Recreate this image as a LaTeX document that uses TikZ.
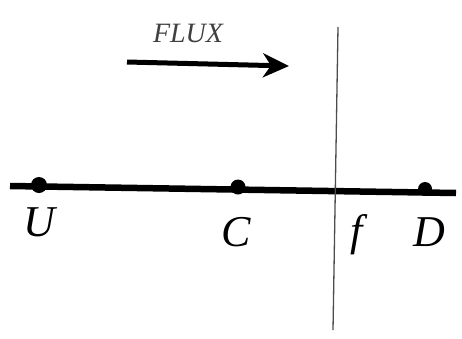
\documentclass[tikz,border=0pt]{standalone}
\usepackage{fontspec}
\setmainfont{Liberation Serif}
\usetikzlibrary{arrows.meta}
\begin{document}
\begin{tikzpicture}[x=1pt,y=-1pt,
  lbl/.style={inner sep=0pt,font=\fontsize{44}{48}\selectfont\itshape}]
\useasboundingbox (0,0) rectangle (462,338);
% coordinates
\coordinate (L) at (10,186);
\coordinate (R) at (456,193);
\coordinate (VT) at (338,27);
\coordinate (VB) at (333,330);
\coordinate (A1) at (127,62);
\coordinate (A2) at (289,66);
% main line
\draw[line width=6.5pt] (L) -- (R);
% dots (bumps on top of line)
\fill (39,185) circle (8);
\fill (238,187) circle (7.5);
\fill (425,189) circle (7);
% vertical line
\draw[line width=1.3pt, black!70] (VT) -- (VB);
% arrow
\draw[line width=5pt,-{Stealth[length=26pt,width=24pt,inset=8pt]}] (A1) -- (A2);
\node[inner sep=0pt,font=\fontsize{28}{32}\selectfont\itshape, text=black!75] (flux) at (188,33) {FLUX};
% labels
\node[lbl] (U) at (39,222) {U};
\node[lbl] (C) at (236,232) {C};
\node[lbl] (f) at (357,235) {f};
\node[lbl] (D) at (429,232) {D};
\end{tikzpicture}
\end{document}
